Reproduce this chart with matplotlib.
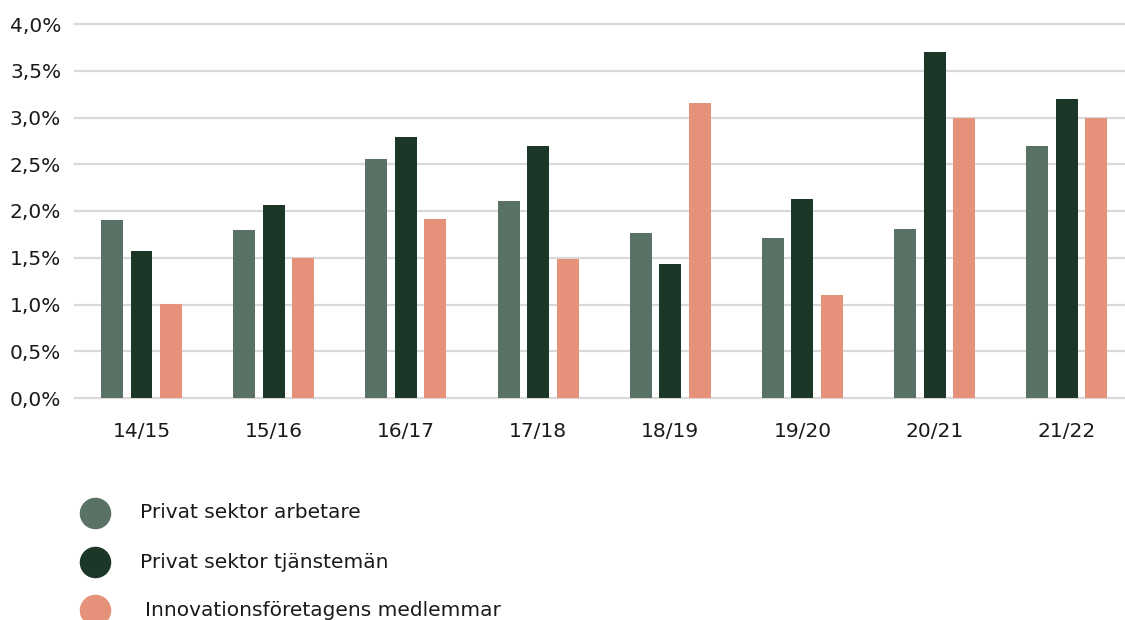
import matplotlib.pyplot as plt
import numpy as np

plt.rcParams['font.family'] = ['DejaVu Sans']

years = ['14/15', '15/16', '16/17', '17/18', '18/19', '19/20', '20/21', '21/22']
arbetare = [1.90, 1.80, 2.56, 2.11, 1.76, 1.71, 1.81, 2.70]
tjanstemán = [1.57, 2.06, 2.79, 2.70, 1.43, 2.13, 3.70, 3.20]
innovation = [1.01, 1.50, 1.91, 1.49, 3.16, 1.10, 3.00, 3.00]
series_names = ['Privat sektor arbetare', 'Privat sektor tjänstemän',
                'Innovationsföretagens medlemmar']
colors = ['#5a7166', '#1c3628', '#e6927b']
yticks = [0, 0.5, 1.0, 1.5, 2.0, 2.5, 3.0, 3.5, 4.0]

fig = plt.figure(figsize=(11.25, 6.2), dpi=100)
ax = fig.add_axes([75 / 1125, 1 - 398 / 620, 1050 / 1125, 374 / 620])

x = np.arange(len(years))
w = 0.166
off = 0.223
for i, (vals, c) in enumerate(zip([arbetare, tjanstemán, innovation], colors)):
    ax.bar(x + (i - 1) * off, vals, width=w, color=c, zorder=3)

ax.set_ylim(0, 4.0)
ax.set_xlim(-0.503, 7.44)
ax.set_yticks(yticks)
ax.set_yticklabels([f'{v:.1f}%'.replace('.', ',') for v in yticks])
ax.set_xticks(x)
ax.set_xticklabels(years)
ax.yaxis.grid(True, color='#d9d9d9', linewidth=1.6, zorder=0)
ax.set_axisbelow(True)
for gl in ax.get_ygridlines():
    gl.set_clip_on(False)
for s in ax.spines.values():
    s.set_visible(False)
ax.tick_params(axis='y', length=0, pad=10, labelsize=14.5, labelcolor='#1a1a1a')
ax.tick_params(axis='x', length=0, pad=17, labelsize=14.5, labelcolor='#1a1a1a')

# legend drawn by hand at the bottom left
lg = fig.add_axes([0, 0, 1, 1])
lg.set_xlim(0, 1125)
lg.set_ylim(620, 0)
lg.axis('off')
leg_y = [513, 562, 610]
leg_tx = [140, 140, 145]
for yy, tx, name, c in zip(leg_y, leg_tx, series_names, colors):
    lg.scatter([95], [yy], s=470, color=c, clip_on=False)
    lg.text(tx, yy, name, fontsize=14.5, va='center', ha='left', color='#1a1a1a')

fig.savefig('out.png', dpi=100)
